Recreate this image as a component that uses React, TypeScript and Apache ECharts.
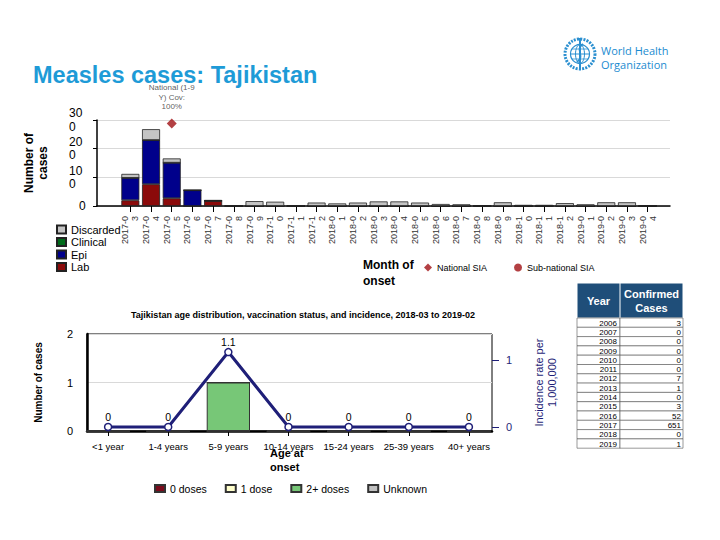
import React, { useEffect, useRef } from 'react';
import * as echarts from 'echarts';

const FONT = '"Liberation Sans", Arial, Helvetica, sans-serif';

// ---- Top chart data (monthly cases) ----
const months = [
  '2017-03', '2017-04', '2017-05', '2017-06', '2017-07', '2017-08', '2017-09', '2017-10', '2017-11', '2017-12',
  '2018-01', '2018-02', '2018-03', '2018-04', '2018-05', '2018-06', '2018-07', '2018-08', '2018-09', '2018-10',
  '2018-11', '2018-12', '2019-01', '2019-02', '2019-03', '2019-04',
];
const labCases = [20, 76, 27, 0, 18, 0, 0, 0, 0, 0, 0, 0, 0, 0, 0, 0, 0, 0, 0, 0, 0, 0, 0, 0, 0, 0];
const epiCases = [78, 154, 124, 55, 0, 0, 0, 0, 0, 0, 0, 0, 0, 0, 0, 0, 0, 0, 0, 0, 0, 0, 0, 0, 0, 0];
const clinicalCases = [0, 0, 0, 0, 0, 0, 0, 0, 0, 0, 0, 0, 0, 0, 0, 0, 0, 0, 0, 0, 0, 0, 0, 0, 0, 0];
const discardedCases = [14, 38, 15, 0, 3, 3, 17, 15, 3, 12, 9, 12, 16, 16, 12, 7, 6, 2, 13, 4, 4, 10, 6, 13, 13, 2];
const nationalSia: (number | null)[] = [null, null, 288, null, null, null, null, null, null, null, null, null, null,
  null, null, null, null, null, null, null, null, null, null, null, null, null];
const nationalSiaLabel = 'National (1-9\nY) Cov:\n100%';

// ---- Bottom chart data (age distribution) ----
const ageGroups = ['<1 year', '1-4 years', '5-9 years', '10-14 years', '15-24 years', '25-39 years', '40+ years'];
const zeroDoses = [0, 0, 0, 0, 0, 0, 0];
const oneDose = [0, 0, 0, 0, 0, 0, 0];
const twoPlusDoses = [0, 0, 1, 0, 0, 0, 0];
const unknownDoses = [0, 0, 0, 0, 0, 0, 0];
const incidence = [0, 0, 1.12, 0, 0, 0, 0];

// ---- Table data ----
const tableYears = ['2006', '2007', '2008', '2009', '2010', '2011', '2012', '2013', '2014', '2015', '2016', '2017', '2018', '2019'];
const tableCases = [3, 0, 0, 0, 0, 0, 7, 1, 0, 3, 52, 651, 0, 1];

const NAVY = '#1f1f78';
const SIA_RED = '#a01014';

function buildTable(): any[] {
  const x0 = 577, xMid = 620, x1 = 683;
  const headTop = 283, headH = 35;
  const rowTop = headTop + headH;
  const rowH = 9.3;
  const els: any[] = [];
  els.push({ type: 'rect', shape: { x: x0, y: headTop, width: x1 - x0, height: headH }, style: { fill: '#1f4e79', stroke: '#fff', lineWidth: 1 } });
  els.push({ type: 'line', shape: { x1: xMid, y1: headTop, x2: xMid, y2: headTop + headH }, style: { stroke: '#fff', lineWidth: 1 } });
  els.push({ type: 'text', style: { x: (x0 + xMid) / 2, y: headTop + headH / 2, text: 'Year', fill: '#fff', font: `bold 11px ${FONT}`, align: 'center', verticalAlign: 'middle' } });
  els.push({ type: 'text', style: { x: (xMid + x1) / 2, y: headTop + headH / 2, text: 'Confirmed\nCases', fill: '#fff', font: `bold 11px ${FONT}`, align: 'center', verticalAlign: 'middle', lineHeight: 14 } });
  tableYears.forEach((yr, i) => {
    const y = rowTop + i * rowH;
    els.push({ type: 'rect', shape: { x: x0, y, width: xMid - x0, height: rowH }, style: { fill: '#fff', stroke: '#555', lineWidth: 0.6 } });
    els.push({ type: 'rect', shape: { x: xMid, y, width: x1 - xMid, height: rowH }, style: { fill: '#fff', stroke: '#555', lineWidth: 0.6 } });
    els.push({ type: 'text', style: { x: xMid - 3, y: y + rowH / 2 + 0.5, text: yr, fill: '#000', font: `8px ${FONT}`, align: 'right', verticalAlign: 'middle' } });
    els.push({ type: 'text', style: { x: x1 - 2, y: y + rowH / 2 + 0.5, text: String(tableCases[i]), fill: '#000', font: `8px ${FONT}`, align: 'right', verticalAlign: 'middle' } });
  });
  return els;
}

function buildLogo(): any[] {
  const cx = 580, cy = 54, c = '#2a8fd0';
  return [
    { type: 'circle', shape: { cx, cy, r: 15 }, style: { fill: 'none', stroke: c, lineWidth: 3, lineDash: [2, 1.2] } },
    { type: 'circle', shape: { cx, cy, r: 9.5 }, style: { fill: '#fff', stroke: c, lineWidth: 1.2 } },
    { type: 'ellipse', shape: { cx, cy, rx: 4.5, ry: 9.5 }, style: { fill: 'none', stroke: c, lineWidth: 1 } },
    { type: 'line', shape: { x1: cx - 9.5, y1: cy, x2: cx + 9.5, y2: cy }, style: { stroke: c, lineWidth: 1 } },
    { type: 'line', shape: { x1: cx - 8, y1: cy - 5, x2: cx + 8, y2: cy - 5 }, style: { stroke: c, lineWidth: 0.8 } },
    { type: 'line', shape: { x1: cx - 8, y1: cy + 5, x2: cx + 8, y2: cy + 5 }, style: { stroke: c, lineWidth: 0.8 } },
    { type: 'line', shape: { x1: cx, y1: cy - 16, x2: cx, y2: cy + 16 }, style: { stroke: c, lineWidth: 2 } },
    { type: 'bezierCurve', shape: { x1: cx + 3, y1: cy - 10, x2: cx - 3, y2: cy + 8, cpx1: cx - 6, cpy1: cy - 4, cpx2: cx + 6, cpy2: cy + 2 }, style: { stroke: c, lineWidth: 1.6, fill: 'none' } },
    { type: 'text', style: { x: 601, y: 45, text: 'World Health', fill: '#1b8bd0', font: `11px "Open Sans", ${FONT}` } },
    { type: 'text', style: { x: 601, y: 59, text: 'Organization', fill: '#1b8bd0', font: `11px "Open Sans", ${FONT}` } },
  ];
}

export default function App() {
  const ref = useRef<HTMLDivElement>(null);
  useEffect(() => {
    if (!ref.current) return;
    const chart = echarts.init(ref.current, null, { renderer: 'svg' });
    const topBar = (name: string, data: number[], color: string) => ({
      name, type: 'bar', data, stack: 'cases', xAxisIndex: 0, yAxisIndex: 0, barWidth: '87%',
      itemStyle: { color, borderColor: '#222', borderWidth: 0.8 },
    });
    const botBar = (name: string, data: number[], color: string) => ({
      name, type: 'bar', data, stack: 'vax', xAxisIndex: 3, yAxisIndex: 4, barWidth: '72%',
      itemStyle: { color, borderColor: '#333', borderWidth: 1 },
    });
    const option: any = {
      animation: false,
      backgroundColor: '#fff',
      textStyle: { fontFamily: FONT },
      title: [
        { text: 'Measles cases: Tajikistan', left: 28, top: 58, textStyle: { color: '#1e9bd7', fontSize: 23.5, fontWeight: 'bold', fontFamily: FONT } },
        { text: 'Tajikistan age distribution, vaccination status, and incidence, 2018-03 to 2019-02', left: 298, top: 305, textAlign: 'center', textStyle: { fontSize: 9, fontWeight: 'bold', color: '#000', fontFamily: FONT } },
      ],
      legend: [
        {
          data: ['Discarded', 'Clinical', 'Epi', 'Lab'], orient: 'vertical', left: 51, top: 219, itemGap: 1.5, icon: 'rect',
          itemWidth: 9, itemHeight: 8, textStyle: { fontSize: 11, color: '#000', fontFamily: FONT }, selectedMode: false,
        },
        {
          data: [{ name: 'National SIA', icon: 'diamond' }, { name: 'Sub-national SIA', icon: 'circle' }], left: 419, top: 258, itemGap: 27,
          itemWidth: 8, itemHeight: 8, textStyle: { fontSize: 9, color: '#000', fontFamily: FONT }, selectedMode: false,
        },
        {
          data: ['0 doses', '1 dose', '2+ doses', 'Unknown'], left: 149, top: 478, itemGap: 18, icon: 'rect',
          itemWidth: 10, itemHeight: 7, textStyle: { fontSize: 10.5, color: '#000', fontFamily: FONT }, selectedMode: false,
        },
      ],
      grid: [
        { left: 120, top: 120, width: 538, height: 86 },
        { left: 97, top: 120, width: 573, height: 86 },
        { left: 87, top: 334, width: 405, height: 97, show: true, borderColor: '#000', borderWidth: 1 },
        { left: 78, top: 334, width: 421, height: 97 },
      ],
      xAxis: [
        {
          gridIndex: 0, type: 'category', data: months, axisLine: { show: false },
          axisTick: { show: true, alignWithLabel: true, length: 6, lineStyle: { color: '#000' } },
          axisLabel: { rotate: 90, interval: 0, fontSize: 9, color: '#333', margin: 10, lineHeight: 10, formatter: (v: string) => v.slice(0, 6) + '\n' + v.slice(6) },
        },
        { gridIndex: 1, type: 'value', min: 0, max: 1, axisLine: { show: true, lineStyle: { color: '#000', width: 1.5 } }, axisTick: { show: false }, axisLabel: { show: false }, splitLine: { show: false } },
        { gridIndex: 2, type: 'value', min: 0, max: 1, axisLine: { show: true, lineStyle: { color: '#000', width: 2.5 } }, axisTick: { show: false }, axisLabel: { show: false }, splitLine: { show: false } },
        {
          gridIndex: 3, type: 'category', data: ageGroups, axisLine: { show: false },
          axisTick: { show: true, alignWithLabel: true, length: 5, lineStyle: { color: '#000' } },
          axisLabel: { interval: 0, fontSize: 9.5, color: '#000', margin: 10 },
        },
      ],
      yAxis: [
        {
          gridIndex: 0, type: 'value', min: 0, max: 300, interval: 100,
          axisLine: { show: false }, axisTick: { show: false }, axisLabel: { show: false }, splitLine: { show: false },
          name: 'Number of\ncases', nameLocation: 'middle', nameGap: 70,
          nameTextStyle: { fontWeight: 'bold', fontSize: 12, color: '#000', lineHeight: 14, fontFamily: FONT },
        },
        {
          gridIndex: 1, type: 'value', min: 0, max: 300, interval: 100,
          axisLine: { show: true, lineStyle: { color: '#000', width: 1.5 } },
          axisTick: { show: true, length: 4, lineStyle: { color: '#000' } },
          axisLabel: {
            fontSize: 12, color: '#000', align: 'left', verticalAlign: 'middle', margin: 28, lineHeight: 13.5,
            showMaxLabel: true, showMinLabel: true, hideOverlap: false,
            formatter: (v: number) => (v === 0 ? '   0' : String(v).slice(0, 2) + '\n' + String(v).slice(2)),
          },
          splitLine: { show: true, lineStyle: { color: '#d9d9d9' } },
        },
        {
          gridIndex: 2, type: 'value', min: 0, max: 2, interval: 1, position: 'left',
          axisLine: { show: true, lineStyle: { color: '#000', width: 2.5 } }, axisTick: { show: false },
          axisLabel: { fontSize: 11, color: '#000', margin: 14 },
          splitLine: { show: true, lineStyle: { color: '#d9d9d9' } },
          name: 'Number of cases', nameLocation: 'middle', nameGap: 44,
          nameTextStyle: { fontWeight: 'bold', fontSize: 10, color: '#000', fontFamily: FONT },
        },
        {
          gridIndex: 2, type: 'value', min: -0.06, max: 1.39, position: 'right',
          axisLine: { show: false },
          axisTick: { show: true, customValues: [0, 1], length: 7, lineStyle: { color: NAVY } },
          axisLabel: { customValues: [0, 1], fontSize: 11, color: NAVY, margin: 14 },
          splitLine: { show: false },
          name: 'Incidence rate per\n1,000,000', nameLocation: 'middle', nameRotate: 90, nameGap: 40,
          nameTextStyle: { fontSize: 11, color: NAVY, lineHeight: 13, fontFamily: FONT },
        },
        { gridIndex: 3, type: 'value', min: 0, max: 2, interval: 1, show: false },
        { gridIndex: 3, type: 'value', min: -0.06, max: 1.39, show: false },
      ],
      series: [
        topBar('Lab', labCases, '#8b0a0a'),
        topBar('Epi', epiCases, '#00008b'),
        topBar('Clinical', clinicalCases, '#006b1a'),
        topBar('Discarded', discardedCases, '#c4c4c4'),
        {
          name: 'National SIA', type: 'scatter', xAxisIndex: 0, yAxisIndex: 0, data: nationalSia,
          symbol: 'diamond', symbolSize: 10, itemStyle: { color: SIA_RED }, z: 5,
          label: { show: true, position: 'top', distance: 7, formatter: nationalSiaLabel, fontSize: 8, lineHeight: 9.5, color: '#333', fontFamily: FONT },
        },
        { name: 'Sub-national SIA', type: 'scatter', xAxisIndex: 0, yAxisIndex: 0, data: [], symbol: 'circle', itemStyle: { color: SIA_RED } },
        botBar('0 doses', zeroDoses, '#7a0b1c'),
        botBar('1 dose', oneDose, '#ffffcc'),
        botBar('2+ doses', twoPlusDoses, '#77c777'),
        botBar('Unknown', unknownDoses, '#c0c0c0'),
        {
          name: 'Incidence', type: 'line', xAxisIndex: 3, yAxisIndex: 5, data: incidence, z: 5,
          lineStyle: { color: NAVY, width: 3 }, symbol: 'circle', symbolSize: 7,
          itemStyle: { color: '#fff', borderColor: NAVY, borderWidth: 1.5 },
          label: { show: true, position: 'top', distance: 0, fontSize: 10.5, color: '#000', fontFamily: FONT, formatter: (p: any) => (p.value === 0 ? '0' : p.value.toFixed(1)) },
        },
      ],
      graphic: [
        { type: 'text', style: { x: 363, y: 257, text: 'Month of\nonset', fill: '#000', font: `bold 12px ${FONT}`, lineHeight: 16 } },
        { type: 'text', style: { x: 270, y: 446, text: 'Age at\nonset', fill: '#000', font: `bold 11px ${FONT}`, lineHeight: 14 } },
        ...buildTable(),
        ...buildLogo(),
      ],
    };
    chart.setOption(option);
    return () => chart.dispose();
  }, []);
  return <div ref={ref} style={{ position: 'fixed', left: 0, top: 0, width: 720, height: 540, background: '#fff' }} />;
}
